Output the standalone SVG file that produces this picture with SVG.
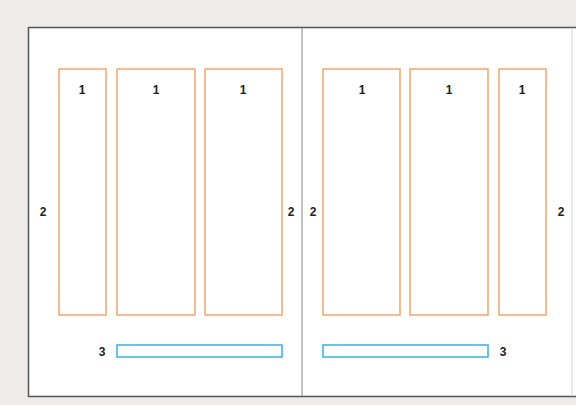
<svg xmlns="http://www.w3.org/2000/svg" width="576" height="405" viewBox="0 0 576 405">
<style>
.col{fill:none;stroke:#f6a56c;stroke-width:1.5}
.bar{fill:none;stroke:#35b0e2;stroke-width:1.5}
.edge{stroke:#555;stroke-width:1.5}
text{font-family:"Liberation Sans",Arial,sans-serif;font-weight:bold;font-size:12px;fill:#222;text-anchor:middle}
</style>
<rect x="0" y="0" width="576" height="405" fill="#eeebe8"/>
<g id="page">
<rect x="28.5" y="27.5" width="547.5" height="369" fill="#fff"/>
<line class="edge" x1="28.5" y1="27.5" x2="576" y2="27.5"/>
<line class="edge" x1="28.5" y1="27" x2="28.5" y2="397"/>
<line class="edge" x1="28" y1="396.5" x2="576" y2="396.5"/>
<line x1="572" y1="28" x2="572" y2="396" stroke="#d4d4d4" stroke-width="1"/>
<line x1="302" y1="28" x2="302" y2="396" stroke="#999" stroke-width="1.2"/>
</g>
<g id="columns-left">
<rect class="col" x="59" y="69" width="47" height="246"/>
<rect class="col" x="117" y="69" width="78" height="246"/>
<rect class="col" x="205" y="69" width="77" height="246"/>
</g>
<g id="columns-right">
<rect class="col" x="323" y="69" width="77" height="246"/>
<rect class="col" x="410" y="69" width="78" height="246"/>
<rect class="col" x="499" y="69" width="47" height="246"/>
</g>
<g id="bars">
<rect class="bar" x="117" y="345" width="165" height="12"/>
<rect class="bar" x="323" y="345" width="165" height="12"/>
</g>
<g id="labels">
<text x="82" y="94">1</text>
<text x="156" y="94">1</text>
<text x="243" y="94">1</text>
<text x="362" y="94">1</text>
<text x="449" y="94">1</text>
<text x="522" y="94">1</text>
<text x="43" y="216">2</text>
<text x="291" y="216">2</text>
<text x="313" y="216">2</text>
<text x="561" y="216">2</text>
<text x="102" y="356">3</text>
<text x="503" y="356">3</text>
</g>
</svg>
